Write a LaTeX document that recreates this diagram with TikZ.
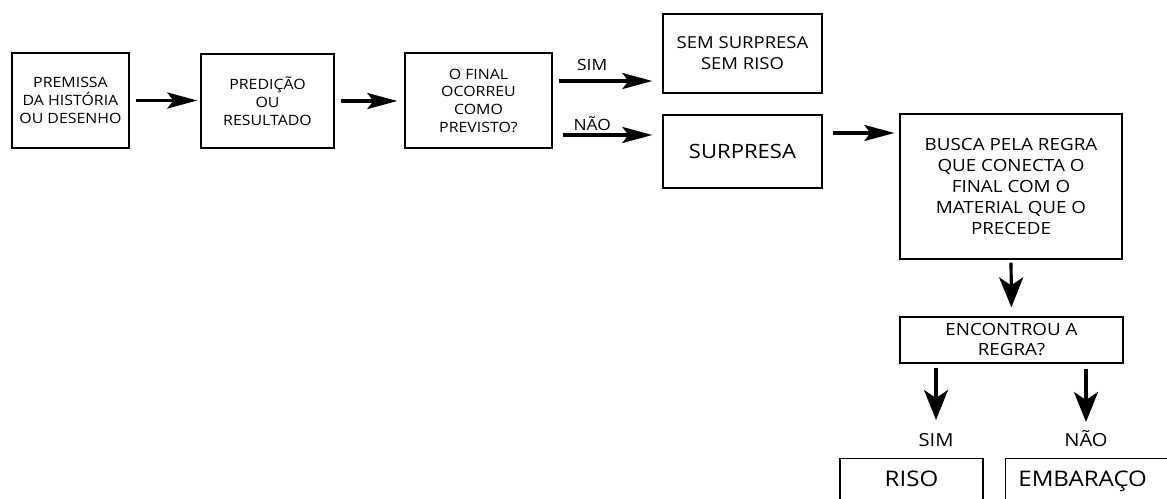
\documentclass[tikz,border=0pt]{standalone}
\usepackage{fontspec}
\newfontfamily\fnt[FakeStretch=1.12]{Open Sans}
\usetikzlibrary{arrows.meta}
\begin{document}
\begin{tikzpicture}[x=1pt,y=-1pt,
  box/.style={draw, line width=1.3pt, align=center, inner sep=0pt},
  fa/.style={font=\fnt\fontsize{14.2}{17.7}\selectfont},
  fs/.style={font=\fnt\fontsize{16.5}{21}\selectfont},
  fb/.style={font=\fnt\fontsize{16.8}{21}\selectfont},
  fc/.style={font=\fnt\fontsize{16.8}{20}\selectfont},
  fbig/.style={font=\fnt\fontsize{19.7}{22}\selectfont},
  fhuge/.style={font=\fnt\fontsize{21.5}{24}\selectfont},
  flab/.style={font=\fnt\fontsize{15.5}{16}\selectfont, inner sep=0pt},
  flabb/.style={font=\fnt\fontsize{18}{18}\selectfont, inner sep=0pt, text height=13pt, text depth=0pt},
  arr/.style={line width=3.2pt, -{Stealth[length=30pt,width=16pt,inset=6pt]}},
  varr/.style={line width=3.2pt, -{Stealth[length=30pt,width=24pt,inset=8pt]}}
]
\useasboundingbox (0,0) rectangle (1167,498);
\clip (0,0) rectangle (1167,498);

\node[box,fa,minimum width=117pt,minimum height=95pt] (prem) at (70.5,100.5) {PREMISSA\\DA HISTÓRIA\\OU DESENHO};
\node[box,fa,minimum width=133pt,minimum height=94pt] (pred) at (267.5,101) {PREDIÇÃO\\OU\\RESULTADO};
\node[box,fa,minimum width=147pt,minimum height=95pt] (final) at (478.5,100.5) {O FINAL\\OCORREU\\COMO\\PREVISTO?};
\node[box,fs,minimum width=159pt,minimum height=79pt] (semsur) at (742.5,53.5) {SEM SURPRESA\\SEM RISO};
\node[box,fbig,minimum width=159pt,minimum height=73pt] (surp) at (742.5,151.5) {SURPRESA};
\node[box,fb,minimum width=222pt,minimum height=145pt] (busca) at (1011,186.5) {BUSCA PELA REGRA\\QUE CONECTA O\\FINAL COM O\\MATERIAL QUE O\\PRECEDE};
\node[box,fc,minimum width=223pt,minimum height=46pt] (enc) at (1011.5,340) {ENCONTROU A\\REGRA?};
\node[flabb] (simlab) at (936,439.5) {SIM};
\node[flabb] (naolab) at (1086,439.5) {NÃO};
\node[draw, line width=1.3pt, fhuge, inner sep=0pt, anchor=north, minimum width=143pt,
      text height=28pt, text depth=50pt] (riso) at (911.5,458) {RISO};
\node[draw, line width=1.3pt, fhuge, inner sep=0pt, anchor=north west, minimum width=174pt,
      text height=28pt, text depth=50pt] (emb) at (1005,458) {EMBARAÇO\hspace*{20pt}};

\draw[arr, shorten <=6pt, shorten >=3pt] (prem.east) -- (pred.west |- prem.east);
\draw[arr, shorten <=6pt, shorten >=7pt] (pred.east) -- (final.west |- pred.east);

\coordinate (s1) at ([yshift=19.5pt]final.east);
\draw[arr, shorten <=6pt, shorten >=10pt] (s1) -- (s1 -| semsur.west)
  node[flab, pos=0.36, anchor=south, yshift=9pt] {SIM};
\coordinate (s2) at ([yshift=-34.5pt]final.east);
\draw[arr, shorten <=10pt, shorten >=10pt] (s2) -- (s2 -| surp.west)
  node[flab, pos=0.36, anchor=south, yshift=3pt] {NÃO};

\coordinate (s3) at ([yshift=18.5pt]surp.east);
\draw[arr, shorten <=10pt, shorten >=5pt] (s3) -- (s3 -| busca.west);

\draw[varr, shorten <=3pt, shorten >=9pt] (busca.south) -- (enc.north);
\draw[varr, shorten <=4pt, shorten >=19.5pt] (enc.south -| simlab) -- (simlab.center);
\draw[varr, shorten <=5pt, shorten >=17.5pt] (enc.south -| naolab) -- (naolab.center);
\end{tikzpicture}
\end{document}
